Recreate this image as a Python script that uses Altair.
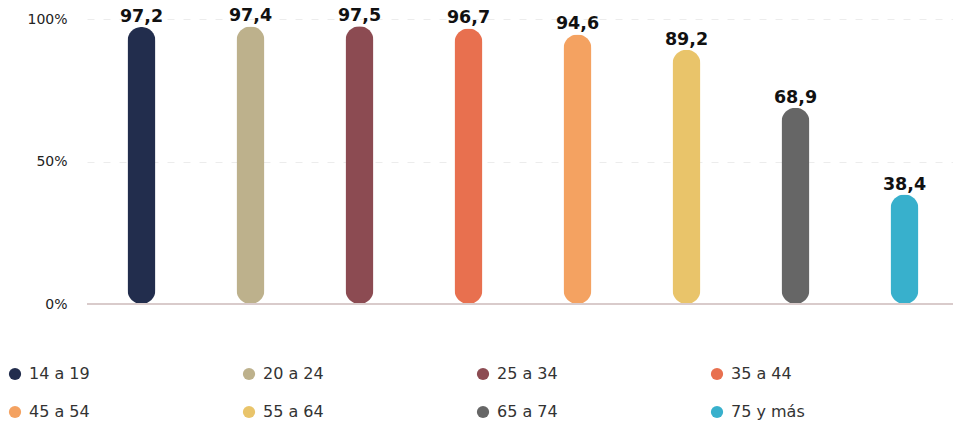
import altair as alt
import pandas as pd

# Share of each age group, in percent
groups = ["14 a 19", "20 a 24", "25 a 34", "35 a 44", "45 a 54", "55 a 64", "65 a 74", "75 y más"]
values = [97.2, 97.4, 97.5, 96.7, 94.6, 89.2, 68.9, 38.4]
colors = ["#222d4d", "#bdb18c", "#8c4b52", "#e8704f", "#f4a261", "#e9c46a", "#666666", "#38b0cc"]

df = pd.DataFrame({
    "grupo": groups,
    "valor": values,
    "etiqueta": [f"{v:.1f}".replace(".", ",") for v in values],
})

FONT = "DejaVu Sans"

# band scale runs slightly past the right edge of the view
x = alt.X("grupo:N", sort=groups, axis=None,
          scale=alt.Scale(range=[0, 872], paddingInner=0.74, paddingOuter=0.37))
y = alt.Y("valor:Q", scale=alt.Scale(domain=[0, 100]),
          axis=alt.Axis(values=[0, 50, 100], labelExpr="datum.value + '%'",
                        title=None, domain=False, ticks=False, labelPadding=20,
                        labelFontSize=14, labelColor="#222", labelFont=FONT,
                        gridDash=[7, 9], gridColor="#ececec", gridWidth=1))

bars = alt.Chart(df).mark_bar(cornerRadius=14, width=28).encode(
    x=x,
    y=y,
    color=alt.Color("grupo:N", sort=groups,
                    scale=alt.Scale(domain=groups, range=colors),
                    legend=alt.Legend(orient="none", legendX=-80, legendY=347,
                                      direction="horizontal", columns=4,
                                      title=None, symbolType="circle", symbolSize=150,
                                      symbolStrokeWidth=0, labelFontSize=16,
                                      labelFont=FONT, labelColor="#333",
                                      labelOffset=6, columnPadding=151,
                                      rowPadding=22)),
)

labels = alt.Chart(df).mark_text(baseline="bottom", dy=-1, fontSize=17.5,
                                 fontWeight="bold", font=FONT, color="#111").encode(
    x=x, y="valor:Q", text="etiqueta:N")

baseline = alt.Chart(pd.DataFrame({"v": [0]})).mark_rule(color="#d9cbcb", strokeWidth=2).encode(
    y="v:Q")

chart = alt.layer(bars, baseline, labels).properties(
    width=866, height=285,
    autosize=alt.AutoSizeParams(type="none"),
    padding={"left": 87, "top": 19, "right": 0, "bottom": 123},
).configure_view(stroke=None)

chart.save("out.html", embed_options={"renderer": "svg", "actions": False})
